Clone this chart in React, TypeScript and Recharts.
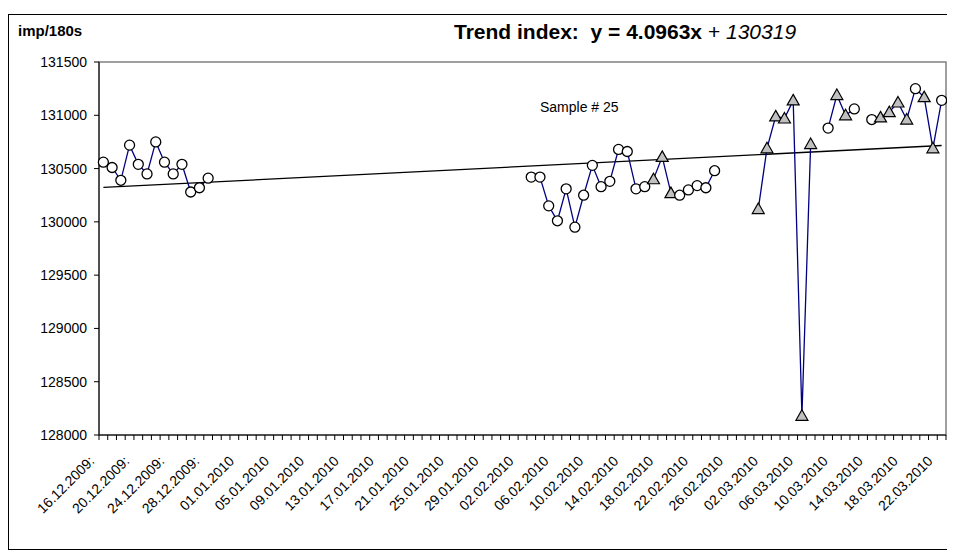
import { Line, LineChart, ReferenceArea, ReferenceLine, XAxis, YAxis } from "recharts";

const TICK_LABELS = [
  "16.12.2009:", "20.12.2009:", "24.12.2009:", "28.12.2009:", "01.01.2010", "05.01.2010",
  "09.01.2010", "13.01.2010", "17.01.2010", "21.01.2010", "25.01.2010", "29.01.2010",
  "02.02.2010", "06.02.2010", "10.02.2010", "14.02.2010", "18.02.2010", "22.02.2010",
  "26.02.2010", "02.03.2010", "06.03.2010", "10.03.2010", "14.03.2010", "18.03.2010",
  "22.03.2010",
];

// one value per day, 16.12.2009 .. 22.03.2010 (null = no measurement)
const VALUES: (number | null)[] = [
  130560, 130510, 130390, 130720, 130540, 130450, 130750, 130560, 130450, 130540, 130280, 130320, 130410,
  null, null, null, null, null, null, null, null, null, null, null, null,
  null, null, null, null, null, null, null, null, null, null, null, null,
  null, null, null, null, null, null, null, null, null, null, null, null,
  130420, 130420, 130150, 130010, 130310, 129950, 130250, 130530, 130330, 130380,
  130680, 130660, 130310, 130330, 130400, 130610, 130270, 130250, 130300, 130340, 130320, 130480,
  null, null, null, null,
  130120, 130690, 130990, 130970, 131140, 128180, 130730, null,
  130880, 131190, 131000, 131060, null, 130960, 130980, 131030, 131120, 130960,
  131250, 131170, 130690, 131140,
];

// days drawn with a grey triangle instead of a circle
const TRIANGLE_DAYS = [63, 64, 65, 75, 76, 77, 78, 79, 80, 81, 84, 85, 89, 90, 91, 92, 94, 95];

const Y_TICKS = [128000, 128500, 129000, 129500, 130000, 130500, 131000, 131500];

const TREND_SLOPE = 4.0963;
const TREND_INTERCEPT = 130319;

const data = VALUES.map((v, i) => ({ i, v }));
const lastDay = VALUES.length - 1;
const edges = Array.from({ length: VALUES.length + 1 }, (_, k) => k - 0.5);
const labelDays = TICK_LABELS.map((_, k) => k * 4);

const FONT = "Arial, 'Liberation Sans', sans-serif";

function DateTick(props: any) {
  const { x, y, payload } = props;
  const ax = x - 8;
  const ay = y + 26;
  return (
    <text
      x={ax}
      y={ay}
      transform={`rotate(-45, ${ax}, ${ay})`}
      textAnchor="end"
      fontSize={14}
      fontFamily={FONT}
      fill="#000"
    >
      {TICK_LABELS[Math.round(payload.value / 4)]}
    </text>
  );
}

const NoLabel = () => <g />;

function Marker(props: any) {
  const { cx, cy, index, value } = props;
  if (value == null || cy == null) return <g key={index} />;
  if (TRIANGLE_DAYS.includes(index)) {
    return (
      <path
        key={index}
        d={`M${cx},${cy - 6} L${cx + 6},${cy + 4.5} L${cx - 6},${cy + 4.5} Z`}
        fill="#c0c0c0"
        stroke="#000"
        strokeWidth={1.2}
      />
    );
  }
  return <circle key={index} cx={cx} cy={cy} r={5} fill="#fff" stroke="#000" strokeWidth={1.3} />;
}

export default function App() {
  return (
    <div style={{ position: "relative", width: 945, height: 536, marginTop: 6, fontFamily: FONT }}>
      <LineChart width={945} height={536} data={data} margin={{ top: 48, right: 7, left: 0, bottom: 0 }}>
        <XAxis
          type="number"
          dataKey="i"
          domain={[-0.5, lastDay + 0.5]}
          ticks={edges}
          interval={0}
          tick={<NoLabel />}
          tickLine={{ stroke: "#000" }}
          tickSize={5}
          height={1}
          stroke="#000"
        />
        <XAxis
          xAxisId="labels"
          type="number"
          dataKey="i"
          domain={[-0.5, lastDay + 0.5]}
          ticks={labelDays}
          interval={0}
          axisLine={false}
          tickLine={false}
          tickSize={0}
          tickMargin={0}
          height={114}
          tick={<DateTick />}
        />
        <YAxis
          type="number"
          domain={[128000, 131500]}
          ticks={Y_TICKS}
          interval={0}
          width={91}
          tickSize={5}
          tickMargin={7}
          stroke="#000"
          tick={{ fontSize: 14, fill: "#000", fontFamily: FONT }}
        />
        <ReferenceArea
          x1={-0.5}
          x2={lastDay + 0.5}
          y1={128000}
          y2={131500}
          fill="none"
          stroke="#808080"
          strokeWidth={1.5}
        />
        <ReferenceLine
          segment={[
            { x: 0, y: TREND_INTERCEPT + TREND_SLOPE * 1 },
            { x: lastDay, y: TREND_INTERCEPT + TREND_SLOPE * (lastDay + 1) },
          ]}
          stroke="#000"
          strokeWidth={1.3}
        />
        <Line
          type="linear"
          dataKey="v"
          stroke="#000080"
          strokeWidth={1.3}
          dot={<Marker />}
          activeDot={false}
          isAnimationActive={false}
        />
      </LineChart>
      <div style={{ position: "absolute", inset: 0, border: "1px solid #000", pointerEvents: "none" }} />
      <div style={{ position: "absolute", left: 10, top: 8, fontSize: 15, fontWeight: "bold" }}>imp/180s</div>
      <div style={{ position: "absolute", left: 446, top: 6, fontSize: 21, whiteSpace: "pre" }}>
        <b>{"Trend index:  y = 4.0963x"}</b>
        {" + "}
        <i>130319</i>
      </div>
      <div style={{ position: "absolute", left: 532, top: 85, fontSize: 14 }}>Sample # 25</div>
    </div>
  );
}
